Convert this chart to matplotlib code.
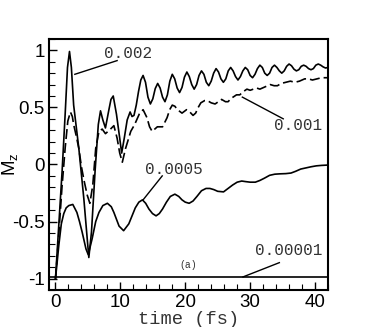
import matplotlib
matplotlib.use("Agg")
import matplotlib.pyplot as plt
from matplotlib.ticker import MultipleLocator

# ---- data ----
t_002 = [0, 0.5, 1.02, 1.5, 1.85, 2.16, 2.45, 2.8, 3.6, 4.37, 4.8, 5.14, 5.55, 6.1, 6.6, 6.94, 7.3, 7.7, 8.2,
         8.55, 8.9, 9.4, 9.9, 10.2, 10.6, 11.05, 11.5, 11.8, 12.1, 12.45, 12.8, 13.15, 13.5,
         13.875, 14.25, 14.625, 15.0, 15.375, 15.75, 16.125, 16.5, 16.875, 17.25, 17.625, 18.0,
         18.375, 18.75, 19.125, 19.5, 19.875, 20.25, 20.625, 21.0, 21.375, 21.75, 22.125, 22.5,
         22.875, 23.25, 23.625, 24.0, 24.375, 24.75, 25.125, 25.5, 25.875, 26.25, 26.625, 27.0,
         27.375, 27.75, 28.125, 28.5, 28.875, 29.25, 29.625, 30.0, 30.375, 30.75, 31.125, 31.5,
         31.875, 32.25, 32.625, 33.0, 33.375, 33.75, 34.125, 34.5, 34.875, 35.25, 35.625, 36.0,
         36.375, 36.75, 37.125, 37.5, 37.875, 38.25, 38.625, 39.0, 39.375, 39.75, 40.125, 40.5,
         40.875, 41.25, 41.625, 42.0]
y_002 = [-1.0, -0.54, -0.06, 0.45, 0.85, 0.99, 0.85, 0.52, 0.14, -0.30, -0.59, -0.815, -0.59, -0.06, 0.35,
         0.47, 0.39, 0.32, 0.47, 0.57, 0.60, 0.44, 0.23, 0.10, 0.23, 0.39, 0.46, 0.42, 0.43, 0.52, 0.64,
         0.74, 0.78,
         0.72, 0.59, 0.53, 0.575, 0.665, 0.71, 0.67, 0.59, 0.55, 0.61, 0.73, 0.79,
         0.75, 0.67, 0.63, 0.675, 0.765, 0.81, 0.77, 0.70, 0.66, 0.70, 0.78, 0.82,
         0.79, 0.72, 0.69, 0.73, 0.80, 0.84, 0.81, 0.75, 0.72, 0.75, 0.82, 0.85,
         0.82, 0.77, 0.74, 0.77, 0.82, 0.85, 0.83, 0.78, 0.76, 0.79, 0.84, 0.87,
         0.85, 0.80, 0.78, 0.80, 0.85, 0.87, 0.85, 0.82, 0.80, 0.82, 0.86, 0.88,
         0.865, 0.835, 0.82, 0.83, 0.86, 0.87, 0.86, 0.84, 0.83, 0.84, 0.87, 0.88,
         0.87, 0.855, 0.845, 0.85]

t_001 = [0, 0.5, 1.0, 1.5, 1.9, 2.3, 2.6, 2.8, 3.2, 3.6, 4.0, 4.4, 4.9, 5.3, 5.75, 6.2, 6.7, 7.2, 7.7, 8.3,
         9.0, 9.5, 9.9, 10.3, 10.8, 11.6, 12.2, 12.9, 13.5, 14.1, 14.5, 14.9, 15.3, 15.7, 16.5, 17.2, 17.6,
         18.0, 18.4, 18.8, 19.5, 20.2, 20.7, 21.2, 21.6, 22.0, 22.4, 23.0, 23.4, 24.0, 24.6, 25.1, 25.6,
         26.2, 26.6, 27.1, 27.9, 28.4, 29.0, 29.5, 30.0, 30.5, 31.0, 31.5, 32.3, 33.1, 33.7, 34.2, 34.8,
         35.5, 36.2, 36.9, 37.6, 38.4, 39.0, 39.6, 40.3, 41.0, 42.0]
y_001 = [-1.0, -0.62, -0.2, 0.15, 0.38, 0.46, 0.42, 0.35, 0.25, 0.14, -0.02, -0.14, -0.27, -0.34, -0.18,
         0.14, 0.29, 0.31, 0.27, 0.30, 0.34, 0.23, 0.10, 0.02, 0.14, 0.29, 0.35, 0.44, 0.48, 0.41, 0.33,
         0.29, 0.31, 0.33, 0.33, 0.41, 0.48, 0.52, 0.51, 0.48, 0.45, 0.48, 0.46, 0.43, 0.45, 0.50, 0.54,
         0.56, 0.56, 0.54, 0.53, 0.55, 0.57, 0.55, 0.55, 0.58, 0.61, 0.61, 0.64, 0.66, 0.65, 0.66, 0.67,
         0.66, 0.68, 0.70, 0.69, 0.69, 0.71, 0.72, 0.73, 0.72, 0.73, 0.75, 0.75, 0.74, 0.75, 0.76, 0.76]

t_0005 = [0, 0.25, 0.51, 0.9, 1.28, 1.65, 2.05, 2.67, 3.3, 3.7, 4.1, 4.7, 5.05, 5.65, 6.2, 6.7, 7.3, 8.0, 8.6,
          9.0, 9.8, 10.5, 11.3, 11.8, 12.3, 12.85, 13.4, 13.9, 14.4, 14.95, 15.5, 16.0, 16.5, 17.1, 17.7,
          18.4, 19.0, 19.5, 20.0, 20.6, 21.2, 21.8, 22.5, 23.2, 23.8, 24.4, 25.0, 25.9, 26.6, 27.3, 28.0,
          28.7, 29.3, 30.0, 30.8, 31.5, 32.2, 33.0, 33.8, 34.6, 35.5, 36.3, 37.0, 37.8, 38.6, 39.4, 40.2,
          41.0, 42.0]
y_0005 = [-1.0, -0.86, -0.71, -0.52, -0.43, -0.38, -0.36, -0.35, -0.42, -0.50, -0.59, -0.74, -0.79, -0.65,
          -0.50, -0.42, -0.36, -0.34, -0.37, -0.42, -0.54, -0.58, -0.52, -0.45, -0.38, -0.33, -0.31, -0.34,
          -0.39, -0.43, -0.45, -0.43, -0.39, -0.33, -0.28, -0.26, -0.28, -0.31, -0.33, -0.34, -0.32, -0.28,
          -0.23, -0.21, -0.21, -0.22, -0.235, -0.24, -0.21, -0.18, -0.155, -0.145, -0.15, -0.155, -0.155,
          -0.14, -0.12, -0.095, -0.085, -0.082, -0.08, -0.075, -0.06, -0.04, -0.03, -0.02, -0.012, -0.008,
          -0.005]

t_00001 = [-1.0, 42.0]
y_00001 = [-0.99, -0.99]

labels = ["0.002", "0.001", "0.0005", "0.00001"]
label_xy = [(11.2, 0.97), (37.4, 0.345), (18.3, -0.04), (36.0, -0.75)]
leader_from = [(2.98, 0.79), (28.8, 0.59), (13.5, -0.31), (28.9, -0.985)]
leader_to = [(9.5, 0.91), (35.1, 0.40), (16.45, -0.10), (34.5, -0.86)]

xticks = [0, 10, 20, 30, 40]
yticks = [-1, -0.5, 0, 0.5, 1]
ytick_labels = ["-1", "-0.5", "0", "0.5", "1"]

# ---- figure ----
fig = plt.figure(figsize=(3.74, 3.27), dpi=100)
ax = fig.add_axes([0.131, 0.113, 0.746, 0.768])

lw = 1.2
ax.plot(t_002, y_002, color="black", lw=lw)
ax.plot(t_001, y_001, color="black", lw=lw, dashes=(6, 2.4))
ax.plot(t_0005, y_0005, color="black", lw=lw)
ax.plot(t_00001, y_00001, color="black", lw=lw)

mono = ["Liberation Mono", "DejaVu Sans Mono"]
for lab, (tx, ty), (x0, y0), (x1, y1) in zip(labels, label_xy, leader_from, leader_to):
    ax.plot([x0, x1], [y0, y1], color="black", lw=1.0)
    ax.text(tx, ty, lab, fontsize=11.5, family=mono, color="#333333", ha="center", va="center")

ax.text(20.5, -0.88, "(a)", fontsize=7, family=mono, color="#333333", ha="center", va="center")

ax.set_xlim(-1, 42)
ax.set_ylim(-1.1, 1.1)
ax.set_xticks(xticks)
ax.set_yticks(yticks)
ax.set_yticklabels(ytick_labels)
ax.xaxis.set_minor_locator(MultipleLocator(2))
ax.yaxis.set_minor_locator(MultipleLocator(0.1))
ax.tick_params(which="both", direction="in", top=False, right=False)
ax.tick_params(which="major", length=6, width=1.0, labelsize=13.5, pad=3)
ax.tick_params(which="minor", length=4, width=0.8)
for lab in ax.get_xticklabels() + ax.get_yticklabels():
    lab.set_family(["Liberation Sans", "DejaVu Sans"])
for s in ax.spines.values():
    s.set_linewidth(1.5)

ax.set_xlabel("time (fs)", fontsize=13.5, family=mono, color="#333333")
ax.xaxis.set_label_coords(0.5, -0.085)
ax.set_ylabel(r"M$_\mathregular{z}$", fontsize=13.5, family=["Liberation Sans", "DejaVu Sans"])
ax.yaxis.set_label_coords(-0.102, 0.5)

fig.savefig("out.png", dpi=100)
